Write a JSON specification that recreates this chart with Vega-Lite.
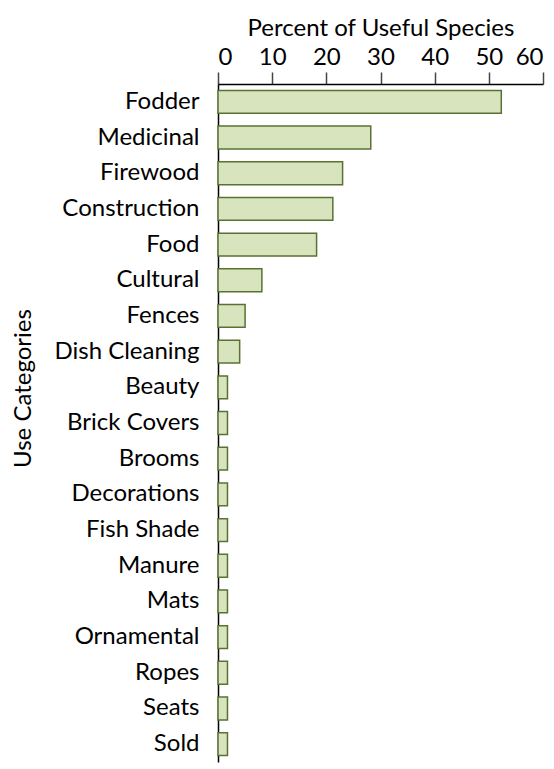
{
  "$schema": "https://vega.github.io/schema/vega-lite/v6.json",
  "autosize": "none",
  "padding": {"left": 218, "top": 84, "right": 11, "bottom": 7},
  "width": 325,
  "height": 678,
  "background": "white",
  "data": {"values": [
    {"category": "Fodder", "percent": 52.3},
    {"category": "Medicinal", "percent": 28.2},
    {"category": "Firewood", "percent": 23.0},
    {"category": "Construction", "percent": 21.2},
    {"category": "Food", "percent": 18.2},
    {"category": "Cultural", "percent": 8.1},
    {"category": "Fences", "percent": 5.0},
    {"category": "Dish Cleaning", "percent": 4.0},
    {"category": "Beauty", "percent": 1.75},
    {"category": "Brick Covers", "percent": 1.75},
    {"category": "Brooms", "percent": 1.75},
    {"category": "Decorations", "percent": 1.75},
    {"category": "Fish Shade", "percent": 1.75},
    {"category": "Manure", "percent": 1.75},
    {"category": "Mats", "percent": 1.75},
    {"category": "Ornamental", "percent": 1.75},
    {"category": "Ropes", "percent": 1.75},
    {"category": "Seats", "percent": 1.75},
    {"category": "Sold", "percent": 1.75}
  ]},
  "mark": {"type": "bar", "fill": "#d7e4bd", "stroke": "#5b7132", "strokeWidth": 1.5},
  "encoding": {
    "y": {
      "field": "category", "type": "nominal", "sort": null,
      "scale": {"paddingInner": 0.36, "paddingOuter": 0.18},
      "axis": {
        "title": "Use Categories", "ticks": false, "labelPadding": 19, "domainColor": "black", "domainWidth": 1.5,
        "labelFont": "Lato", "labelFontSize": 24, "labelColor": "black",
        "titleFont": "Lato", "titleFontSize": 24, "titleFontWeight": "normal", "titleColor": "black",
        "titleX": -195, "titleY": 304, "titleAngle": -90, "titleAlign": "center", "titleBaseline": "middle"
      }
    },
    "x": {
      "field": "percent", "type": "quantitative",
      "scale": {"domain": [0, 60], "nice": false},
      "axis": {
        "orient": "top", "title": "Percent of Useful Species", "values": [0, 10, 20, 30, 40, 50, 60],
        "grid": false, "tickSize": 12, "tickColor": "#444", "tickWidth": 1.5, "domainColor": "black", "domainWidth": 1.5,
        "labelPadding": 3, "labelFont": "Lato", "labelFontSize": 24, "labelColor": "black",
        "titleFont": "Lato", "titleFontSize": 24, "titleFontWeight": "normal", "titleColor": "black", "titlePadding": 5
      }
    }
  },
  "config": {"view": {"stroke": null}}
}
